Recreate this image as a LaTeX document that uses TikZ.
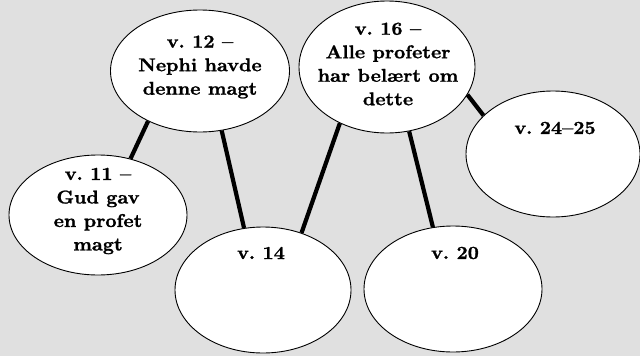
\documentclass[tikz,border=0pt]{standalone}
\usepackage{fontspec}
\newfontfamily\lblfont{lmroman10-bold.otf}[FakeBold=1.2, Ligatures=TeX]
\usetikzlibrary{shapes.geometric}
\definecolor{bgcol}{RGB}{224,224,224}
\frenchspacing
\begin{document}
\begin{tikzpicture}[x=1bp,y=1bp,
  bubble/.style={draw=black, line width=0.9bp, fill=white, ellipse, inner sep=0pt},
  conn/.style={line width=4.2bp, black},
  lbl/.style={align=center, inner sep=0pt, font=\lblfont\fontsize{18.5bp}{23.5bp}\selectfont, xscale=1.05, transform shape}]
\useasboundingbox (0,0) rectangle (640,356);
\fill[bgcol] (0,0) rectangle (640,356);
\node[bubble, minimum width=179bp, minimum height=122bp] (e12) at (200,285) {};
\node[bubble, minimum width=176bp, minimum height=132bp] (e16) at (387,289) {};
\node[bubble, minimum width=178bp, minimum height=120bp] (e11) at (98,141) {};
\node[bubble, minimum width=176bp, minimum height=126bp] (e14) at (263,66) {};
\node[bubble, minimum width=178bp, minimum height=126bp] (e20) at (453,67) {};
\node[bubble, minimum width=174bp, minimum height=126bp] (e24) at (553,202) {};
\draw[conn] (e12.224) -- (e11.60);
\draw[conn] (e12.290) -- (e14.107);
\draw[conn] (e16.230) -- (e14.56);
\draw[conn] (e16.289.5) -- (e20.108);
\draw[conn] (e16.341) -- (e24.151.5);
\node[lbl] (t12) at (200,289) {v. 12 –\\Nephi havde\\denne magt};
\node[lbl] (t16) at (388,292) {v. 16 –\\Alle profeter\\har belært om\\dette};
\node[lbl] (t11) at (98,145) {v. 11 –\\Gud gav\\en profet\\magt};
\node[lbl] (t14) at (261,103) {v. 14};
\node[lbl] (t20) at (455,103) {v. 20};
\node[lbl] (t24) at (555,228) {v. 24–25};
\end{tikzpicture}
\end{document}
